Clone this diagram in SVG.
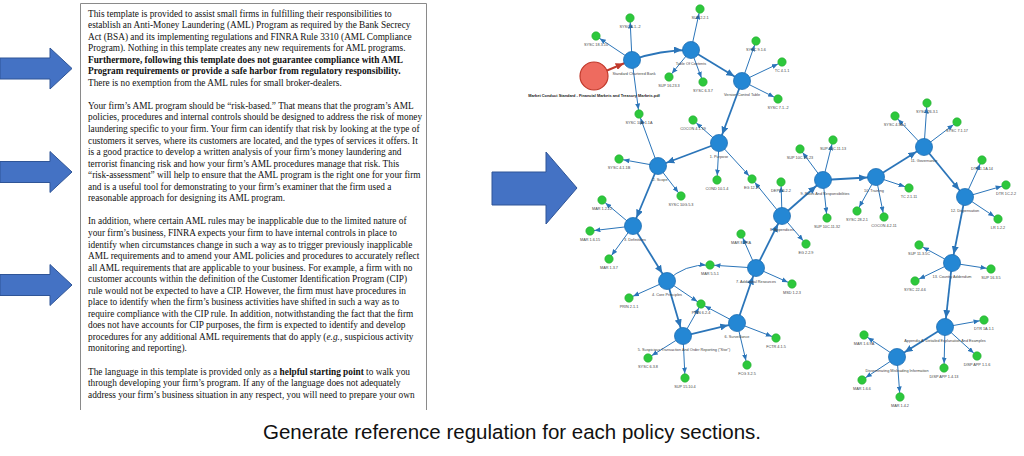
<svg xmlns="http://www.w3.org/2000/svg" width="1024" height="456" viewBox="0 0 1024 456">
<style>
.doc{font-family:"Liberation Serif","Times New Roman",serif;font-size:9.3px;fill:#111}
.b{font-weight:bold}
.cap{font-family:"Liberation Sans",Arial,sans-serif;font-size:20.5px;fill:#111}
.arr{fill:#4472c4;stroke:#2f5597;stroke-width:1}
.nb{fill:#2487d4;stroke:#1f6fb3;stroke-width:0.8}
.ng{fill:#2dc83c;stroke:#25ad33;stroke-width:0.6}
.nr{fill:#ee6b5f;stroke:#c0392b;stroke-width:1.2}
.lb{font-family:"Liberation Sans",Arial,sans-serif;font-size:3.8px;fill:#444;text-anchor:middle}
.lr{font-family:"Liberation Sans",Arial,sans-serif;font-size:3.9px;font-weight:bold;fill:#222;text-anchor:middle}
.et{stroke:#2b75b9;stroke-width:1.8;fill:none;marker-end:url(#mb)}
.eg{stroke:#2b75b9;stroke-width:1;fill:none;marker-end:url(#mg)}
.er{stroke:#c0392b;stroke-width:2;fill:none;marker-end:url(#mr)}
</style>
<defs>
<marker id="mb" markerUnits="userSpaceOnUse" markerWidth="8" markerHeight="7" refX="17" refY="3.5" orient="auto"><path d="M0,0 L8,3.5 L0,7 z" fill="#2b75b9"/></marker>
<marker id="mg" markerUnits="userSpaceOnUse" markerWidth="6" markerHeight="5" refX="10.5" refY="2.5" orient="auto"><path d="M0,0 L6,2.5 L0,5 z" fill="#2b75b9"/></marker>
<marker id="mr" markerUnits="userSpaceOnUse" markerWidth="8" markerHeight="7" refX="17" refY="3.5" orient="auto"><path d="M0,0 L8,3.5 L0,7 z" fill="#c0392b"/></marker>
</defs>
<rect width="1024" height="456" fill="#fff"/>

<g id="arrows">
<polygon class="arr" points="0,58 50,58 50,48 72,68.5 50,89 50,79 0,79"/>
<polygon class="arr" points="0,161.5 50,161.5 50,151.5 72,172 50,192.5 50,182.5 0,182.5"/>
<polygon class="arr" points="0,274.5 50,274.5 50,264.5 72,285 50,305.5 50,295.5 0,295.5"/>
<polygon class="arr" points="492,172 546,172 546,152 577,188 546,224 546,205 492,205"/>
</g>

<g id="document">
<path d="M80.5,410 V3.5 H426.5 V410" fill="#fff" stroke="#8a8a8a" stroke-width="1"/>
<text class="doc" x="88" y="16.5">This template is provided to assist small firms in fulfilling their responsibilities to</text>
<text class="doc" x="88" y="28.05">establish an Anti-Money Laundering (AML) Program as required by the Bank Secrecy</text>
<text class="doc" x="88" y="39.6">Act (BSA) and its implementing regulations and FINRA Rule 3310 (AML Compliance</text>
<text class="doc" x="88" y="51.15">Program). Nothing in this template creates any new requirements for AML programs.</text>
<text class="doc b" x="88" y="62.7">Furthermore, following this template does not guarantee compliance with AML</text>
<text class="doc b" x="88" y="74.25">Program requirements or provide a safe harbor from regulatory responsibility.</text>
<text class="doc" x="88" y="85.8">There is no exemption from the AML rules for small broker-dealers.</text>
<text class="doc" x="88" y="108.9">Your firm’s AML program should be “risk-based.” That means that the program’s AML</text>
<text class="doc" x="88" y="120.45">policies, procedures and internal controls should be designed to address the risk of money</text>
<text class="doc" x="88" y="132">laundering specific to your firm. Your firm can identify that risk by looking at the type of</text>
<text class="doc" x="88" y="143.55">customers it serves, where its customers are located, and the types of services it offers. It</text>
<text class="doc" x="88" y="155.1">is a good practice to develop a written analysis of your firm’s money laundering and</text>
<text class="doc" x="88" y="166.65">terrorist financing risk and how your firm’s AML procedures manage that risk. This</text>
<text class="doc" x="88" y="178.2">“risk-assessment” will help to ensure that the AML program is the right one for your firm</text>
<text class="doc" x="88" y="189.75">and is a useful tool for demonstrating to your firm’s examiner that the firm used a</text>
<text class="doc" x="88" y="201.3">reasonable approach for designing its AML program.</text>
<text class="doc" x="88" y="224.4">In addition, where certain AML rules may be inapplicable due to the limited nature of</text>
<text class="doc" x="88" y="235.95">your firm’s business, FINRA expects your firm to have internal controls in place to</text>
<text class="doc" x="88" y="247.5">identify when circumstances change in such a way as to trigger previously inapplicable</text>
<text class="doc" x="88" y="259.05">AML requirements and to amend your AML policies and procedures to accurately reflect</text>
<text class="doc" x="88" y="270.6">all AML requirements that are applicable to your business. For example, a firm with no</text>
<text class="doc" x="88" y="282.15">customer accounts within the definition of the Customer Identification Program (CIP)</text>
<text class="doc" x="88" y="293.7">rule would not be expected to have a CIP. However, the firm must have procedures in</text>
<text class="doc" x="88" y="305.25">place to identify when the firm’s business activities have shifted in such a way as to</text>
<text class="doc" x="88" y="316.8">require compliance with the CIP rule. In addition, notwithstanding the fact that the firm</text>
<text class="doc" x="88" y="328.35">does not have accounts for CIP purposes, the firm is expected to identify and develop</text>
<text class="doc" x="88" y="339.9">procedures for any additional AML requirements that do apply (<tspan font-style="italic">e.g.</tspan>, suspicious activity</text>
<text class="doc" x="88" y="351.45">monitoring and reporting).</text>
<text class="doc" x="88" y="374.55">The language in this template is provided only as a <tspan font-weight="bold">helpful starting point</tspan> to walk you</text>
<text class="doc" x="88" y="386.1">through developing your firm’s program. If any of the language does not adequately</text>
<text class="doc" x="88" y="397.65">address your firm’s business situation in any respect, you will need to prepare your own</text>
</g>

<g id="connectors">
<line class="er" x1="594" y1="76" x2="632" y2="60"/>
<path class="et" d="M632,60 Q660,50 691,50"/>
<line class="et" x1="691" y1="50" x2="742" y2="81"/>
<line class="et" x1="742" y1="81" x2="719" y2="143"/>
<line class="et" x1="719" y1="143" x2="658" y2="166"/>
<line class="et" x1="658" y1="166" x2="633" y2="226"/>
<line class="et" x1="633" y1="226" x2="667" y2="281"/>
<line class="et" x1="667" y1="281" x2="683" y2="336"/>
<line class="et" x1="683" y1="336" x2="737" y2="323"/>
<line class="et" x1="737" y1="323" x2="756" y2="268"/>
<line class="et" x1="756" y1="268" x2="782" y2="216"/>
<line class="et" x1="782" y1="216" x2="823" y2="180"/>
<line class="et" x1="823" y1="180" x2="876" y2="177"/>
<line class="et" x1="876" y1="177" x2="924" y2="147"/>
<line class="et" x1="924" y1="147" x2="965" y2="197"/>
<line class="et" x1="965" y1="197" x2="952" y2="263"/>
<line class="et" x1="952" y1="263" x2="945" y2="327"/>
<line class="et" x1="945" y1="327" x2="897" y2="357"/>

<line class="eg" x1="632" y1="60" x2="630" y2="18"/>
<line class="eg" x1="632" y1="60" x2="596" y2="36"/>
<line class="eg" x1="632" y1="60" x2="639" y2="114"/>
<line class="eg" x1="691" y1="50" x2="700" y2="9"/>
<line class="eg" x1="691" y1="50" x2="669" y2="77"/>
<line class="eg" x1="691" y1="50" x2="703" y2="82"/>
<line class="eg" x1="742" y1="81" x2="756" y2="41"/>
<line class="eg" x1="742" y1="81" x2="782" y2="62"/>
<line class="eg" x1="742" y1="81" x2="778" y2="99"/>
<line class="eg" x1="719" y1="143" x2="693" y2="120"/>
<line class="eg" x1="719" y1="143" x2="717" y2="180"/>
<line class="eg" x1="719" y1="143" x2="752" y2="179"/>
<line class="eg" x1="658" y1="166" x2="639" y2="114"/>
<line class="eg" x1="658" y1="166" x2="619" y2="159"/>
<line class="eg" x1="658" y1="166" x2="681" y2="196"/>
<line class="eg" x1="633" y1="226" x2="602" y2="200"/>
<line class="eg" x1="633" y1="226" x2="590" y2="231"/>
<line class="eg" x1="633" y1="226" x2="609" y2="259"/>
<line class="eg" x1="667" y1="281" x2="629" y2="298"/>
<line class="eg" x1="667" y1="281" x2="701" y2="304"/>
<path class="eg" d="M667,281 Q684,264 710,265"/>
<line class="eg" x1="683" y1="336" x2="648" y2="358"/>
<line class="eg" x1="683" y1="336" x2="685" y2="378"/>
<line class="eg" x1="683" y1="336" x2="701" y2="304"/>
<line class="eg" x1="737" y1="323" x2="701" y2="304"/>
<line class="eg" x1="737" y1="323" x2="747" y2="365"/>
<line class="eg" x1="737" y1="323" x2="776" y2="338"/>
<line class="eg" x1="756" y1="268" x2="710" y2="265"/>
<line class="eg" x1="756" y1="268" x2="741" y2="234"/>
<line class="eg" x1="756" y1="268" x2="792" y2="284"/>
<line class="eg" x1="782" y1="216" x2="752" y2="179"/>
<line class="eg" x1="782" y1="216" x2="781" y2="182"/>
<line class="eg" x1="782" y1="216" x2="806" y2="244"/>
<line class="eg" x1="823" y1="180" x2="833" y2="140"/>
<line class="eg" x1="823" y1="180" x2="800" y2="149"/>
<line class="eg" x1="823" y1="180" x2="827" y2="218"/>
<line class="eg" x1="876" y1="177" x2="909" y2="188"/>
<line class="eg" x1="876" y1="177" x2="857" y2="211"/>
<line class="eg" x1="876" y1="177" x2="884" y2="217"/>
<line class="eg" x1="924" y1="147" x2="895" y2="116"/>
<line class="eg" x1="924" y1="147" x2="927" y2="103"/>
<line class="eg" x1="924" y1="147" x2="957" y2="122"/>
<line class="eg" x1="965" y1="197" x2="982" y2="160"/>
<line class="eg" x1="965" y1="197" x2="1006" y2="185"/>
<line class="eg" x1="965" y1="197" x2="998" y2="219"/>
<line class="eg" x1="952" y1="263" x2="919" y2="245"/>
<line class="eg" x1="952" y1="263" x2="991" y2="269"/>
<line class="eg" x1="952" y1="263" x2="915" y2="281"/>
<line class="eg" x1="945" y1="327" x2="984" y2="320"/>
<line class="eg" x1="945" y1="327" x2="977" y2="356"/>
<line class="eg" x1="945" y1="327" x2="944" y2="368"/>
<line class="eg" x1="897" y1="357" x2="864" y2="335"/>
<line class="eg" x1="897" y1="357" x2="862" y2="380"/>
<line class="eg" x1="897" y1="357" x2="900" y2="397"/>
</g>

<g id="n-pdf"><circle class="nr" cx="594" cy="76" r="14"/><text class="lr" x="594" y="96.5">Market Conduct Standard - Financial Markets and Treasury Markets.pdf</text></g>
<g id="n-scb"><circle class="nb" cx="632" cy="60" r="8.5"/><text class="lb" x="634" y="74.5">Standard Chartered Bank</text></g>
<g id="n-toc"><circle class="nb" cx="691" cy="50" r="8.5"/><text class="lb" x="691" y="64.5">Table Of Contents</text></g>
<g id="n-vct"><circle class="nb" cx="742" cy="81" r="8.5"/><text class="lb" x="742" y="95.5">Version Control Table</text></g>
<g id="n-1"><circle class="nb" cx="719" cy="143" r="8.5"/><text class="lb" x="719" y="157.5">1. Purpose</text></g>
<g id="n-2"><circle class="nb" cx="658" cy="166" r="8.5"/><text class="lb" x="660" y="180.5">2. Scope</text></g>
<g id="n-3"><circle class="nb" cx="633" cy="226" r="8.5"/><text class="lb" x="635" y="240.5">3. Definitions</text></g>
<g id="n-4"><circle class="nb" cx="667" cy="281" r="8.5"/><text class="lb" x="667" y="295.5">4. Core Principles</text></g>
<g id="n-5"><circle class="nb" cx="683" cy="336" r="8.5"/><text class="lb" x="684" y="350.5">5. Suspicious Transaction And Order Reporting ("Stor")</text></g>
<g id="n-6"><circle class="nb" cx="737" cy="323" r="8.5"/><text class="lb" x="737" y="337.5">6. Surveillance</text></g>
<g id="n-7"><circle class="nb" cx="756" cy="268" r="8.5"/><text class="lb" x="756" y="282.5">7. Additional Resources</text></g>
<g id="n-8"><circle class="nb" cx="782" cy="216" r="8.5"/><text class="lb" x="782" y="230.5">8. Appendices</text></g>
<g id="n-9"><circle class="nb" cx="823" cy="180" r="8.5"/><text class="lb" x="825" y="194.5">9. Roles And Responsibilities</text></g>
<g id="n-10"><circle class="nb" cx="876" cy="177" r="8.5"/><text class="lb" x="874" y="191.5">10. Training</text></g>
<g id="n-11"><circle class="nb" cx="924" cy="147" r="8.5"/><text class="lb" x="924" y="161.5">11. Governance</text></g>
<g id="n-12"><circle class="nb" cx="965" cy="197" r="8.5"/><text class="lb" x="965" y="211.5">12. Dispensation</text></g>
<g id="n-13"><circle class="nb" cx="952" cy="263" r="8.5"/><text class="lb" x="952" y="277.5">13. Country Addendum</text></g>
<g id="n-appa"><circle class="nb" cx="945" cy="327" r="8.5"/><text class="lb" x="945" y="341.5">Appendix A: Detailed Explanation And Examples</text></g>
<g id="n-dmi"><circle class="nb" cx="897" cy="357" r="8.5"/><text class="lb" x="897" y="371.5">Disseminating Misleading Information</text></g>

<g id="r-sysc812"><circle class="ng" cx="630" cy="18" r="4.2"/><text class="lb" x="630" y="28">SYSC 8.1.-2</text></g>
<g id="r-sysc18310"><circle class="ng" cx="596" cy="36" r="4.2"/><text class="lb" x="596" y="46">SYSC 18.3.10</text></g>
<g id="r-sup221"><circle class="ng" cx="700" cy="9" r="4.2"/><text class="lb" x="700" y="19">SUP 2.2.1</text></g>
<g id="r-sup16233"><circle class="ng" cx="669" cy="77" r="4.2"/><text class="lb" x="669" y="87">SUP 16.23.3</text></g>
<g id="r-sysc637"><circle class="ng" cx="703" cy="82" r="4.2"/><text class="lb" x="703" y="92">SYSC 6.3.7</text></g>
<g id="r-sysc916"><circle class="ng" cx="756" cy="41" r="4.2"/><text class="lb" x="756" y="51">SYSC 9.1.6</text></g>
<g id="r-tc411"><circle class="ng" cx="782" cy="62" r="4.2"/><text class="lb" x="782" y="72">TC 4.1.1</text></g>
<g id="r-sysc712"><circle class="ng" cx="778" cy="99" r="4.2"/><text class="lb" x="778" y="109">SYSC 7.1.-2</text></g>
<g id="r-sysc10a"><circle class="ng" cx="639" cy="114" r="4.2"/><text class="lb" x="639" y="124">SYSC 10A.1.1A</text></g>
<g id="r-cocon4119"><circle class="ng" cx="693" cy="120" r="4.2"/><text class="lb" x="693" y="130">COCON 4.1.19</text></g>
<g id="r-cond"><circle class="ng" cx="717" cy="180" r="4.2"/><text class="lb" x="717" y="190">COND 10.1.4</text></g>
<g id="r-eg1221"><circle class="ng" cx="752" cy="179" r="4.2"/><text class="lb" x="752" y="189">EG 12.21</text></g>
<g id="r-sysc411b"><circle class="ng" cx="619" cy="159" r="4.2"/><text class="lb" x="619" y="169">SYSC 4.1.1B</text></g>
<g id="r-sysc10g"><circle class="ng" cx="681" cy="196" r="4.2"/><text class="lb" x="681" y="206">SYSC 10G.5.3</text></g>
<g id="r-mar1222"><circle class="ng" cx="602" cy="200" r="4.2"/><text class="lb" x="602" y="210">MAR 1.2.22</text></g>
<g id="r-mar1615"><circle class="ng" cx="590" cy="231" r="4.2"/><text class="lb" x="590" y="241">MAR 1.6.15</text></g>
<g id="r-mar137"><circle class="ng" cx="609" cy="259" r="4.2"/><text class="lb" x="609" y="269">MAR 1.3.7</text></g>
<g id="r-prin211"><circle class="ng" cx="629" cy="298" r="4.2"/><text class="lb" x="629" y="308">PRIN 2.1.1</text></g>
<g id="r-prin624"><circle class="ng" cx="701" cy="304" r="4.2"/><text class="lb" x="701" y="314">PRIN 6.2.4</text></g>
<g id="r-mar551"><circle class="ng" cx="710" cy="265" r="4.2"/><text class="lb" x="710" y="275">MAR 5.5.1</text></g>
<g id="r-sysc638"><circle class="ng" cx="648" cy="358" r="4.2"/><text class="lb" x="648" y="368">SYSC 6.3.8</text></g>
<g id="r-sup15104"><circle class="ng" cx="685" cy="378" r="4.2"/><text class="lb" x="685" y="388">SUP 15.10.4</text></g>
<g id="r-fcg325"><circle class="ng" cx="747" cy="365" r="4.2"/><text class="lb" x="747" y="375">FCG 3.2.5</text></g>
<g id="r-fctr415"><circle class="ng" cx="776" cy="338" r="4.2"/><text class="lb" x="776" y="348">FCTR 4.1.5</text></g>
<g id="r-mar83ra"><circle class="ng" cx="741" cy="234" r="4.2"/><text class="lb" x="741" y="244">MAR 8.3RA</text></g>
<g id="r-msd123"><circle class="ng" cx="792" cy="284" r="4.2"/><text class="lb" x="792" y="294">MSD 1.2.3</text></g>
<g id="r-eg229"><circle class="ng" cx="806" cy="244" r="4.2"/><text class="lb" x="806" y="254">EG 2.2.9</text></g>
<g id="r-depp622"><circle class="ng" cx="781" cy="182" r="4.2"/><text class="lb" x="781" y="192">DEPP 6.2.2</text></g>
<g id="r-sup10c1113"><circle class="ng" cx="833" cy="140" r="4.2"/><text class="lb" x="833" y="150">SUP 10C.11.13</text></g>
<g id="r-sup10c1023"><circle class="ng" cx="800" cy="149" r="4.2"/><text class="lb" x="800" y="159">SUP 10C.10.23</text></g>
<g id="r-sup10c1132"><circle class="ng" cx="827" cy="218" r="4.2"/><text class="lb" x="827" y="228">SUP 10C.11.32</text></g>
<g id="r-tc2111"><circle class="ng" cx="909" cy="188" r="4.2"/><text class="lb" x="909" y="198">TC 2.1.11</text></g>
<g id="r-sysc2821"><circle class="ng" cx="857" cy="211" r="4.2"/><text class="lb" x="857" y="221">SYSC 28.2.1</text></g>
<g id="r-cocon4211"><circle class="ng" cx="884" cy="217" r="4.2"/><text class="lb" x="884" y="227">COCON 4.2.11</text></g>
<g id="r-sysc43a1"><circle class="ng" cx="895" cy="116" r="4.2"/><text class="lb" x="895" y="126">SYSC 4.3A.1</text></g>
<g id="r-sysc2631"><circle class="ng" cx="927" cy="103" r="4.2"/><text class="lb" x="927" y="113">SYSC 26.3.1</text></g>
<g id="r-sysc7117"><circle class="ng" cx="957" cy="122" r="4.2"/><text class="lb" x="957" y="132">SYSC 7.1.17</text></g>
<g id="r-dtr11a14"><circle class="ng" cx="982" cy="160" r="4.2"/><text class="lb" x="982" y="170">DTR 1.1A.14</text></g>
<g id="r-dtr1c22"><circle class="ng" cx="1006" cy="185" r="4.2"/><text class="lb" x="1006" y="195">DTR 1C.2.2</text></g>
<g id="r-lr122"><circle class="ng" cx="998" cy="219" r="4.2"/><text class="lb" x="998" y="229">LR 1.2.2</text></g>
<g id="r-sup1135c"><circle class="ng" cx="919" cy="245" r="4.2"/><text class="lb" x="919" y="255">SUP 11.3.5C</text></g>
<g id="r-sup1635"><circle class="ng" cx="991" cy="269" r="4.2"/><text class="lb" x="991" y="279">SUP 16.3.5</text></g>
<g id="r-sysc2246"><circle class="ng" cx="915" cy="281" r="4.2"/><text class="lb" x="915" y="291">SYSC 22.4.6</text></g>
<g id="r-dtr1a11"><circle class="ng" cx="984" cy="320" r="4.2"/><text class="lb" x="984" y="330">DTR 1A.1.1</text></g>
<g id="r-disp116"><circle class="ng" cx="977" cy="356" r="4.2"/><text class="lb" x="977" y="366">DISP APP 1.1.6</text></g>
<g id="r-disp1413"><circle class="ng" cx="944" cy="368" r="4.2"/><text class="lb" x="944" y="378">DISP APP 1.4.13</text></g>
<g id="r-mar169a"><circle class="ng" cx="864" cy="335" r="4.2"/><text class="lb" x="864" y="345">MAR 1.6.9A</text></g>
<g id="r-mar166"><circle class="ng" cx="862" cy="380" r="4.2"/><text class="lb" x="862" y="390">MAR 1.6.6</text></g>
<g id="r-mar142"><circle class="ng" cx="900" cy="397" r="4.2"/><text class="lb" x="900" y="407">MAR 1.4.2</text></g>

<text class="cap" x="512" y="439" text-anchor="middle">Generate reference regulation for each policy sections.</text>
</svg>
